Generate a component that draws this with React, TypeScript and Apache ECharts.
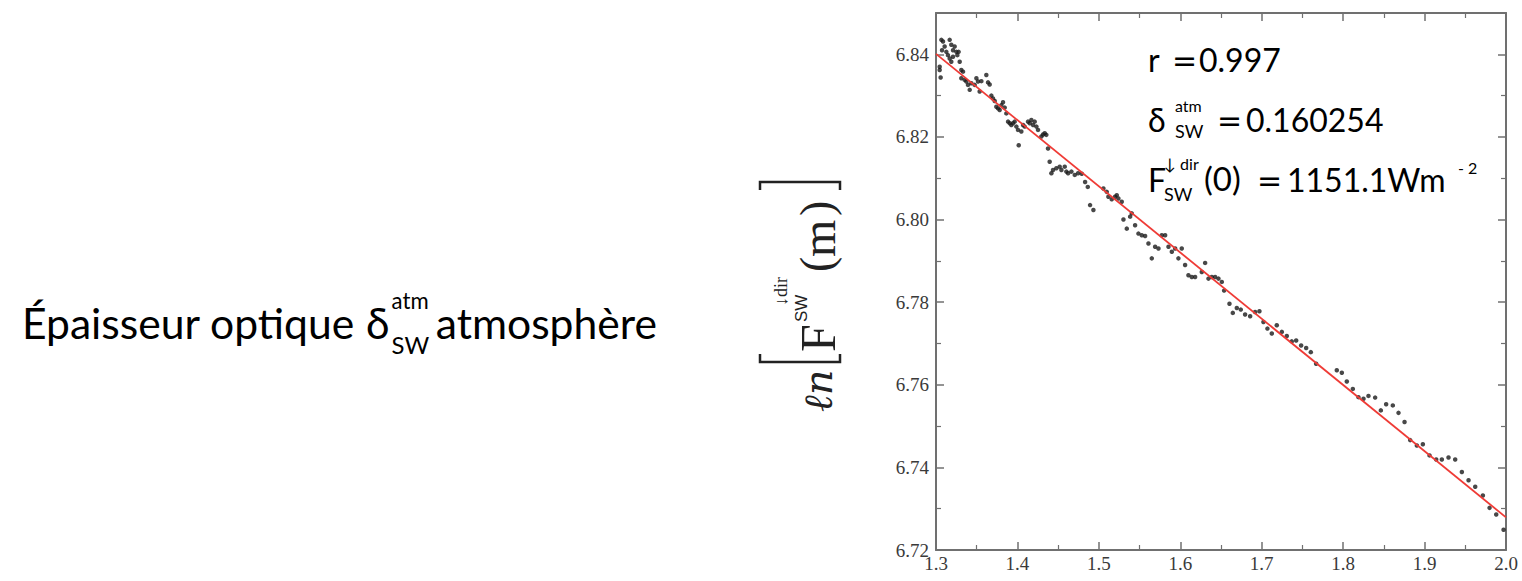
import React, { useEffect, useRef } from "react";
import * as echarts from "echarts";

// Observations: [air mass m, ln F_SW^{dir}(m)]
const observations: [number, number][] = [
  [1.3045, 6.837], [1.3045, 6.8362], [1.3057, 6.8344], [1.3066, 6.8435], [1.3086, 6.8431], [1.3074, 6.841],
  [1.3106, 6.8419], [1.3127, 6.8406], [1.3147, 6.8398], [1.3168, 6.8435], [1.3188, 6.8423], [1.3209, 6.841],
  [1.3229, 6.8419], [1.325, 6.8406], [1.3262, 6.8398], [1.3278, 6.8406], [1.3168, 6.839], [1.3188, 6.8382],
  [1.3209, 6.8394], [1.3291, 6.8382], [1.3311, 6.8362], [1.3332, 6.8358], [1.3311, 6.8342], [1.3352, 6.8338],
  [1.3373, 6.8334], [1.3393, 6.8326], [1.3414, 6.8314], [1.3434, 6.833], [1.3475, 6.8326], [1.3496, 6.8342],
  [1.3516, 6.8334], [1.3536, 6.831], [1.3557, 6.8335], [1.3618, 6.835], [1.3639, 6.8332], [1.3659, 6.8327],
  [1.368, 6.83], [1.37, 6.8293], [1.3721, 6.8287], [1.3741, 6.8273], [1.3762, 6.8269], [1.3782, 6.8265],
  [1.3803, 6.8277], [1.3823, 6.8284], [1.3844, 6.8271], [1.3864, 6.8257], [1.3885, 6.8237], [1.3905, 6.8233],
  [1.3925, 6.8229], [1.3946, 6.8233], [1.3966, 6.8237], [1.3987, 6.8225], [1.4007, 6.8217], [1.4016, 6.818],
  [1.4048, 6.8213], [1.4069, 6.8229], [1.4089, 6.8225], [1.413, 6.8237], [1.4151, 6.8233], [1.4171, 6.8241],
  [1.4192, 6.8229], [1.4212, 6.8237], [1.4233, 6.8225], [1.4253, 6.8217], [1.4294, 6.8201], [1.4315, 6.8206],
  [1.4335, 6.8209], [1.4355, 6.8205], [1.4376, 6.8172], [1.4396, 6.814], [1.4417, 6.8112], [1.4437, 6.812],
  [1.4478, 6.8124], [1.4519, 6.8128], [1.454, 6.812], [1.4581, 6.8128], [1.4601, 6.8116], [1.4622, 6.8112],
  [1.4663, 6.8116], [1.4704, 6.8108], [1.4745, 6.8112],
  [1.479, 6.8111], [1.4831, 6.8091], [1.4864, 6.8079], [1.4892, 6.8035], [1.4933, 6.8023], [1.5056, 6.8075],
  [1.5097, 6.8067], [1.5117, 6.8055], [1.5158, 6.8049], [1.5199, 6.8055], [1.522, 6.8059], [1.524, 6.8051],
  [1.5281, 6.8043], [1.5302, 6.8], [1.5343, 6.7978], [1.5384, 6.8007], [1.5404, 6.8015], [1.5445, 6.7986],
  [1.5486, 6.7966], [1.5527, 6.7962], [1.5568, 6.796], [1.5609, 6.7942], [1.565, 6.7906], [1.5691, 6.7934],
  [1.5732, 6.793], [1.5773, 6.7962], [1.5814, 6.7962], [1.5855, 6.7934], [1.5896, 6.7922], [1.5937, 6.793],
  [1.5977, 6.7906], [1.6018, 6.793], [1.6059, 6.789], [1.61, 6.7865], [1.6141, 6.7861], [1.6182, 6.7861],
  [1.6264, 6.7873], [1.6305, 6.7895], [1.6346, 6.7857], [1.6387, 6.7861], [1.6428, 6.7861], [1.6469, 6.7857],
  [1.651, 6.7849],
  [1.6538, 6.7828], [1.6604, 6.7796], [1.6645, 6.7774], [1.6694, 6.7786], [1.6743, 6.7782], [1.6796, 6.777],
  [1.6858, 6.7766], [1.6919, 6.7776], [1.6972, 6.7778], [1.7021, 6.7752], [1.707, 6.7736], [1.7124, 6.7724],
  [1.7185, 6.7744], [1.7247, 6.7728], [1.7308, 6.7718], [1.7369, 6.7705], [1.7423, 6.7707], [1.7484, 6.7695],
  [1.7546, 6.7689], [1.7603, 6.7679], [1.7668, 6.7651], [1.7922, 6.7635], [1.7984, 6.7629], [1.8045, 6.7608],
  [1.8119, 6.759], [1.8188, 6.757], [1.825, 6.7566], [1.8311, 6.7573],
  [1.8393, 6.7569], [1.8463, 6.7538], [1.8528, 6.7553], [1.861, 6.755], [1.868, 6.7532], [1.8754, 6.751],
  [1.8823, 6.7466], [1.8905, 6.7453], [1.8979, 6.7456], [1.9061, 6.7429], [1.9143, 6.7419], [1.9212, 6.7419],
  [1.9294, 6.7424], [1.9376, 6.7419], [1.9458, 6.7389], [1.954, 6.7369], [1.9622, 6.7353], [1.9716, 6.7332],
  [1.9798, 6.7302], [1.988, 6.7286], [1.997, 6.7249],
];

// Regression line end points
const fitLine: [number, number][] = [
  [1.3, 6.8401],
  [2.0, 6.7279],
];

const rValue = "0.997";
const deltaValue = "0.160254";
const fluxValue = "1151.1";

const SANS = "Lato";
const SERIF = "Liberation Serif";

function txt(text: string, x: number, y: number, fontSize: number, extra: any = {}) {
  return {
    type: "text",
    x,
    y,
    silent: true,
    style: {
      text,
      fontSize,
      fontFamily: extra.fontFamily || SANS,
      fontStyle: extra.fontStyle || "normal",
      fill: extra.fill || "#000",
      align: extra.align || "left",
      verticalAlign: "middle",
    },
  };
}

function measure(text: string, size: number, family: string): number {
  const c = document.createElement("canvas").getContext("2d");
  if (!c) return text.length * size * 0.5;
  c.font = `${size}px "${family}"`;
  return c.measureText(text).width;
}

function buildTitle(): any[] {
  // Fit the whole line between x = 22 and x = 657
  const left = 22;
  const right = 657;
  const base = 100;
  const w1 = measure("Épaisseur optique ", base, SANS);
  const wd = measure("δ", base, SANS);
  const ws = Math.max(measure("atm", base * 0.52, SANS), measure("SW", base * 0.56, SANS));
  const wsp = measure(" ", base, SANS) * 0.6;
  const w2 = measure("atmosphère", base, SANS);
  const total = w1 + wd + ws + wsp + w2;
  const k = (right - left - 2) / total;
  const S = base * k;
  const cy = 322;
  let x = left;
  const out: any[] = [];
  out.push(txt("Épaisseur optique", x, cy, S));
  x += w1 * k;
  out.push(txt("δ", x, cy, S));
  x += wd * k + 2;
  out.push(txt("atm", x, cy - 0.5 * S, S * 0.52));
  out.push(txt("SW", x, cy + 0.52 * S, S * 0.56));
  x += ws * k + wsp * k;
  out.push(txt("atmosphère", x, cy, S));
  return out;
}

export default function App() {
  const ref = useRef<HTMLDivElement>(null);
  useEffect(() => {
    if (!ref.current) return;
    const chart = echarts.init(ref.current, undefined, { renderer: "svg" });
    const axisColor = "#707070";
    const tickCommon = {
      axisLine: { show: true, onZero: false, lineStyle: { color: axisColor, width: 2 } },
      axisTick: { show: true, inside: true, length: 8, lineStyle: { color: axisColor, width: 1.5 } },
      minorTick: { show: true, splitNumber: 2, length: 5, lineStyle: { color: axisColor, width: 1.2 } },
      splitLine: { show: false },
      minorSplitLine: { show: false },
    };
    const labelCommon = {
      fontFamily: SERIF,
      fontSize: 19,
      color: "#3a3a3a",
    };
    const eq = { fontFamily: "DejaVu Sans" };
    chart.setOption({
      animation: false,
      backgroundColor: "#fff",
      grid: { left: 936, right: 16, top: 13, bottom: 31, containLabel: false },
      xAxis: [
        {
          type: "value",
          min: 1.3,
          max: 2.0,
          interval: 0.1,
          position: "bottom",
          ...tickCommon,
          axisLabel: { ...labelCommon, margin: 4, formatter: (v: number) => v.toFixed(1) },
        },
        {
          type: "value",
          min: 1.3,
          max: 2.0,
          interval: 0.1,
          position: "top",
          ...tickCommon,
          axisLabel: { show: false },
        },
      ],
      yAxis: [
        {
          type: "value",
          min: 6.72,
          max: 6.85,
          interval: 0.02,
          position: "left",
          ...tickCommon,
          axisLabel: {
            ...labelCommon,
            margin: 7,
            showMaxLabel: false,
            formatter: (v: number) => v.toFixed(2),
          },
        },
        {
          type: "value",
          min: 6.72,
          max: 6.85,
          interval: 0.02,
          position: "right",
          ...tickCommon,
          axisLabel: { show: false },
        },
      ],
      series: [
        {
          type: "scatter",
          data: observations,
          symbol: "circle",
          symbolSize: 4.5,
          itemStyle: { color: "#1a1a1a" },
          z: 2,
        },
        {
          type: "line",
          data: fitLine,
          showSymbol: false,
          symbol: "none",
          lineStyle: { color: "#ef3b36", width: 1.8 },
          z: 3,
        },
      ],
      graphic: [
        ...buildTitle(),
        // Annotations
        txt("r", 1148, 59, 32),
        txt("=", 1172, 60, 30, eq),
        txt(rValue, 1199, 59, 32),
        txt("δ", 1148, 119, 32),
        txt("atm", 1175, 105, 16),
        txt("SW", 1175, 131, 18),
        txt("=", 1217, 120, 30, eq),
        txt(deltaValue, 1246, 119, 32),
        txt("F", 1148, 179, 32),
        txt("↓ dir", 1164, 163, 16),
        txt("SW", 1164, 194, 18),
        txt("(0)", 1204, 178, 33),
        txt("=", 1257, 180, 30, eq),
        txt(fluxValue + "Wm", 1287, 179, 32),
        txt("- 2", 1458, 167, 16),
        // Y axis title, rotated
        {
          type: "group",
          x: 838,
          y: 412,
          rotation: Math.PI / 2,
          silent: true,
          children: [
            txt("ℓn", 0, -20, 40, { fontFamily: "DejaVu Serif", fontStyle: "italic", fill: "#222" }),
            {
              type: "polyline",
              shape: { points: [[58, -78], [50, -78], [50, 2], [58, 2]] },
              style: { stroke: "#222", lineWidth: 2.5, fill: null },
            },
            txt("F", 60, -20, 50, { fontFamily: SERIF, fill: "#222" }),
            txt("SW", 90, -37, 17, { fontFamily: "Liberation Sans", fill: "#222" }),
            txt("↓dir", 106, -57, 18, { fontFamily: SERIF, fill: "#222" }),
            txt("(", 140, -22, 46, { fontFamily: SERIF, fill: "#222" }),
            txt("m", 155, -20, 48, { fontFamily: SERIF, fill: "#222" }),
            txt(")", 196, -22, 46, { fontFamily: SERIF, fill: "#222" }),
            {
              type: "polyline",
              shape: { points: [[222, -78], [230, -78], [230, 2], [222, 2]] },
              style: { stroke: "#222", lineWidth: 2.5, fill: null },
            },
          ],
        },
      ],
    });
    return () => chart.dispose();
  }, []);
  return (
    <div
      ref={ref}
      style={{ position: "absolute", left: 0, top: 0, width: 1522, height: 581, background: "#fff" }}
    />
  );
}
